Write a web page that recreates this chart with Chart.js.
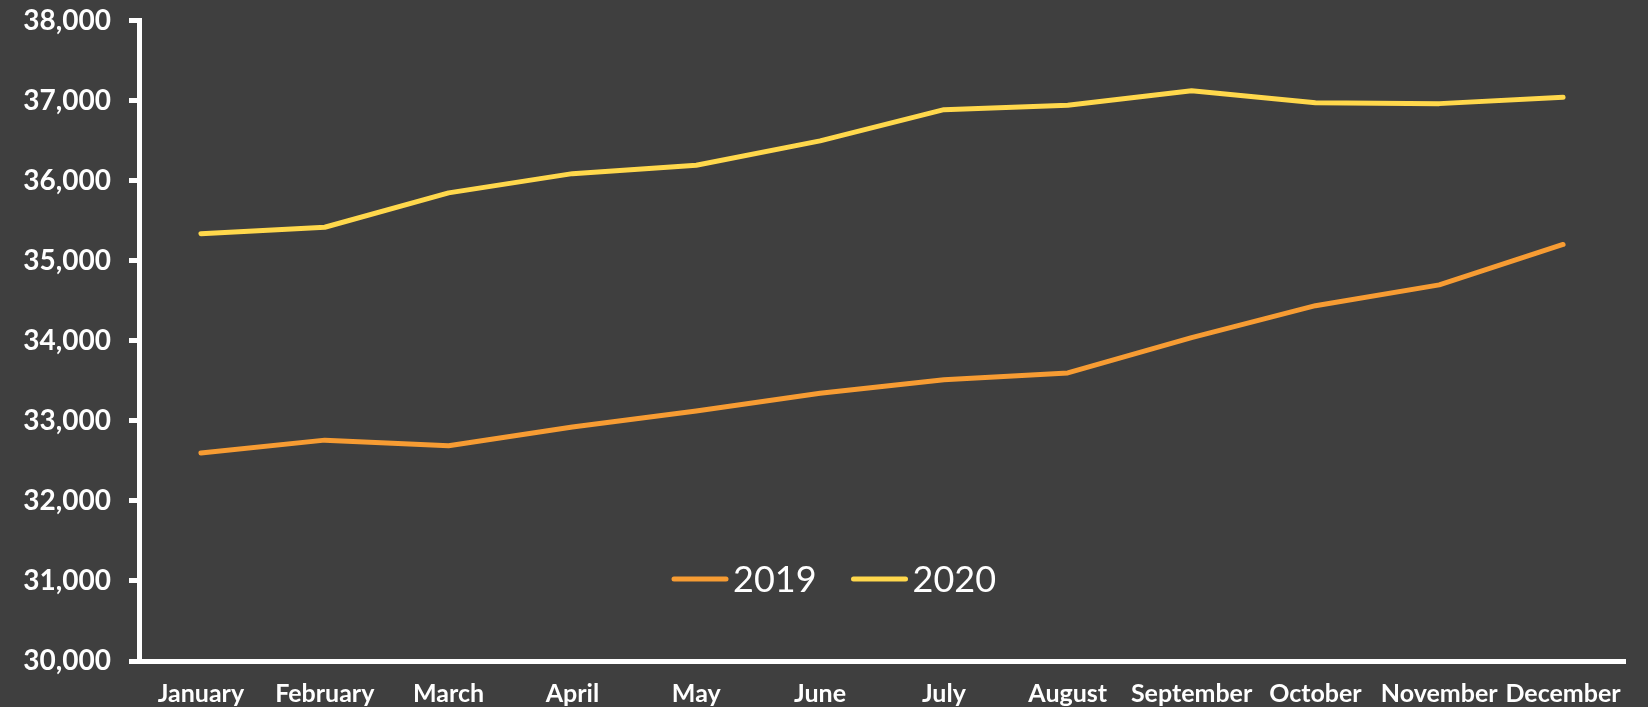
<!DOCTYPE html>
<html>
<head>
<meta charset="utf-8">
<script src="https://cdn.jsdelivr.net/npm/chart.js@4"></script>
<style>
  html, body { margin: 0; padding: 0; background: #3f3f3f; }
  #wrap { width: 1648px; height: 707px; }
</style>
</head>
<body>
<div id="wrap"><canvas id="grafico"></canvas></div>
<script>
const meses = ["January", "February", "March", "April", "May", "June", "July", "August", "September", "October", "November", "December"];
const serie2019 = [32600, 32760, 32690, 32925, 33125, 33345, 33515, 33600, 34040, 34440, 34700, 35205];
const serie2020 = [35340, 35420, 35850, 36090, 36195, 36500, 36890, 36945, 37125, 36975, 36965, 37045];
const yMin = 30000, yMax = 38000, yStep = 1000;

// legenda desenhada dentro da área do gráfico, perto do fundo
const legendaInterna = {
    id: "legendaInterna",
    afterDatasetsDraw(chart) {
        const ctx = chart.ctx;
        const y = chart.chartArea.bottom - 82;
        let x = 672;
        ctx.save();
        ctx.font = "36px Lato";
        ctx.textBaseline = "middle";
        chart.data.datasets.forEach((ds) => {
            ctx.strokeStyle = ds.borderColor;
            ctx.lineWidth = 5;
            ctx.lineCap = "round";
            ctx.beginPath();
            ctx.moveTo(x + 2, y);
            ctx.lineTo(x + 54, y);
            ctx.stroke();
            ctx.fillStyle = "#ffffff";
            ctx.fillText(ds.label, x + 61, y + 1);
            x += 61 + ctx.measureText(ds.label).width + 35;
        });
        ctx.restore();
    }
};

new Chart(document.getElementById("grafico"), {
    type: "line",
    data: {
        labels: meses,
        datasets: [
            { label: "2019", data: serie2019, borderColor: "#f79c33", borderWidth: 5, pointRadius: 0, tension: 0, borderCapStyle: "round", borderJoinStyle: "round" },
            { label: "2020", data: serie2020, borderColor: "#ffd84c", borderWidth: 5, pointRadius: 0, tension: 0, borderCapStyle: "round", borderJoinStyle: "round" }
        ]
    },
    options: {
        responsive: true,
        maintainAspectRatio: false,
        animation: false,
        layout: { padding: { top: 0, right: 23, left: 0, bottom: -20 } },
        plugins: {
            legend: { display: false },
            tooltip: { enabled: false }
        },
        scales: {
            x: {
                offset: true,
                grid: { display: false, drawTicks: false },
                border: { display: true, color: "#ffffff", width: 5 },
                ticks: { color: "#ffffff", font: { family: "Lato", weight: "bold", size: 25 }, padding: 18, maxRotation: 0, autoSkip: false }
            },
            y: {
                min: yMin,
                max: yMax,
                afterFit: (scale) => { scale.width = 139; },
                grid: { drawOnChartArea: false, drawTicks: true, tickLength: 10, color: "#ffffff", lineWidth: 5 },
                border: { display: true, color: "#ffffff", width: 5 },
                ticks: {
                    stepSize: yStep,
                    color: "#ffffff",
                    padding: 18,
                    font: { family: "Lato", weight: "bold", size: 28, lineHeight: 0.2 },
                    callback: (v) => v.toLocaleString("en-US")
                }
            }
        }
    },
    plugins: [legendaInterna]
});
</script>
</body>
</html>
